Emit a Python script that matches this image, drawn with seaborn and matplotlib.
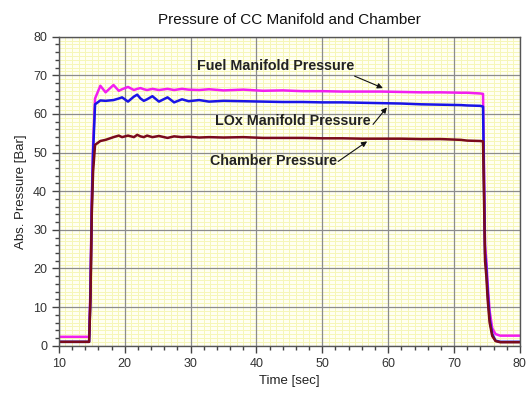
import matplotlib
matplotlib.use("Agg")
import matplotlib.pyplot as plt
import seaborn as sns
import pandas as pd
import numpy as np
from matplotlib.ticker import MultipleLocator

# ---- data ----
time = [10, 12, 14, 14.6, 14.8, 15.0, 15.2, 15.5,
        16.3, 17.1, 18.3, 19.1, 19.6, 20.5, 21.4, 21.9, 22.4, 22.9, 23.4, 24.2, 25.2, 26.5, 27.5, 28.7, 29.7,
        31.3, 32.8, 35, 38, 41, 44, 47, 50, 53, 56, 59, 62, 65, 68, 71, 72, 74,
        74.4, 74.55, 74.7, 74.9, 75.1, 75.4, 75.8, 76.3, 77, 80]

fuel_manifold = [2.3, 2.3, 2.3, 2.3, 15, 38, 52, 64,
                 67.3, 65.6, 67.5, 66.0, 66.4, 67.0, 66.2, 66.5, 66.7, 66.4, 66.2, 66.5, 66.2, 66.5, 66.2, 66.5, 66.3,
                 66.2, 66.4, 66.1, 66.3, 66.0, 66.1, 65.9, 65.9, 65.8, 65.8, 65.8, 65.7, 65.6, 65.6, 65.5, 65.5, 65.3,
                 65.2, 45, 26, 22, 16, 9, 4.5, 3.0, 2.6, 2.6]

lox_manifold = [1.0, 1.0, 1.0, 1.0, 13, 36, 50, 62.5,
                63.5, 63.4, 63.6, 64.0, 64.3, 63.2, 64.5, 65.0, 64.0, 63.4, 63.8, 64.6, 63.2, 64.3, 63.0, 63.8, 63.3,
                63.6, 63.2, 63.4, 63.3, 63.2, 63.1, 63.1, 63.0, 63.0, 62.9, 62.8, 62.7, 62.5, 62.4, 62.3, 62.2, 62.1,
                61.9, 42, 24, 20, 14, 7, 3.0, 1.3, 1.0, 1.0]

chamber = [1.0, 1.0, 1.0, 1.0, 12, 34, 45, 52.0,
           53.0, 53.3, 54.0, 54.4, 54.0, 54.4, 54.0, 54.6, 54.2, 54.0, 54.4, 54.0, 54.3, 53.8, 54.2, 54.0, 54.1,
           53.9, 54.0, 53.9, 54.0, 53.8, 53.8, 53.8, 53.7, 53.7, 53.6, 53.6, 53.6, 53.5, 53.5, 53.3, 53.1, 53.0,
           52.9, 38, 22, 18, 12, 6, 2.5, 1.2, 0.9, 0.9]

series_names = ["Fuel Manifold Pressure", "LOx Manifold Pressure", "Chamber Pressure"]
colors = ["#f21ef0", "#1a14e6", "#7a0a1c"]

frames = []
for name, vals in zip(series_names, [fuel_manifold, lox_manifold, chamber]):
    frames.append(pd.DataFrame({"time": time, "pressure": vals, "series": name}))
df = pd.concat(frames, ignore_index=True)

sns.set_style("ticks")
plt.rcParams["font.family"] = ["Liberation Sans", "DejaVu Sans"]

fig = plt.figure(figsize=(5.30, 3.94), dpi=100)
ax = fig.add_axes([0.111, 0.1226, 0.870, 0.7842])
ax.set_facecolor("#fffff2")

xmin, xmax, ymin, ymax = 10, 80, 0, 80
# fine yellow grid (every unit), drawn beneath everything
fine_x = np.arange(xmin, xmax + 1, 1)
fine_y = np.arange(ymin, ymax + 1, 1)
ax.vlines(fine_x, ymin, ymax, color="#f6f6b8", linewidth=0.7, zorder=0.1)
ax.hlines(fine_y, xmin, xmax, color="#f6f6b8", linewidth=0.7, zorder=0.1)

sns.lineplot(data=df, x="time", y="pressure", hue="series", palette=dict(zip(series_names, colors)),
             hue_order=series_names, linewidth=1.8, legend=False, ax=ax, sort=False, estimator=None)

ax.set_xlim(xmin, xmax)
ax.set_ylim(ymin, ymax)
ax.xaxis.set_major_locator(MultipleLocator(10))
ax.yaxis.set_major_locator(MultipleLocator(10))
ax.xaxis.set_minor_locator(MultipleLocator(2))
ax.yaxis.set_minor_locator(MultipleLocator(2))

ax.grid(which="major", color="#8c8c8c", linewidth=0.9, linestyle="-")
ax.grid(which="minor", visible=False)
ax.set_axisbelow(True)

ax.tick_params(which="major", direction="out", length=5, width=1, colors="#444444",
               labelsize=9, labelcolor="#333333")
ax.tick_params(which="minor", direction="out", length=3, width=1, colors="#444444")

for s in ax.spines.values():
    s.set_color("#555555")
    s.set_linewidth(1.0)

ax.set_xlabel("Time [sec]", fontsize=9.5, color="#222222", labelpad=4)
ax.set_ylabel("Abs. Pressure [Bar]", fontsize=9.5, color="#222222", labelpad=4)
ax.set_title("Pressure of CC Manifold and Chamber", fontsize=11, color="#111111", pad=9)

# annotations
txt_kw = dict(fontsize=10.3, fontweight="bold", color="#222222", ha="center", va="center")
ax.text(42.9, 72.4, "Fuel Manifold Pressure", **txt_kw)
ax.text(45.5, 58.1, "LOx Manifold Pressure", **txt_kw)
ax.text(42.6, 47.7, "Chamber Pressure", **txt_kw)

arrow_kw = dict(arrowstyle="-|>", color="#111111", lw=0.8, mutation_scale=8, shrinkA=0, shrinkB=0)
ax.annotate("", xy=(59.2, 66.7), xytext=(54.9, 69.8), arrowprops=arrow_kw)
ax.annotate("", xy=(59.8, 61.7), xytext=(57.7, 57.3), arrowprops=arrow_kw)
ax.annotate("", xy=(56.8, 52.9), xytext=(52.4, 47.7), arrowprops=arrow_kw)

fig.savefig("out.png", dpi=100)
